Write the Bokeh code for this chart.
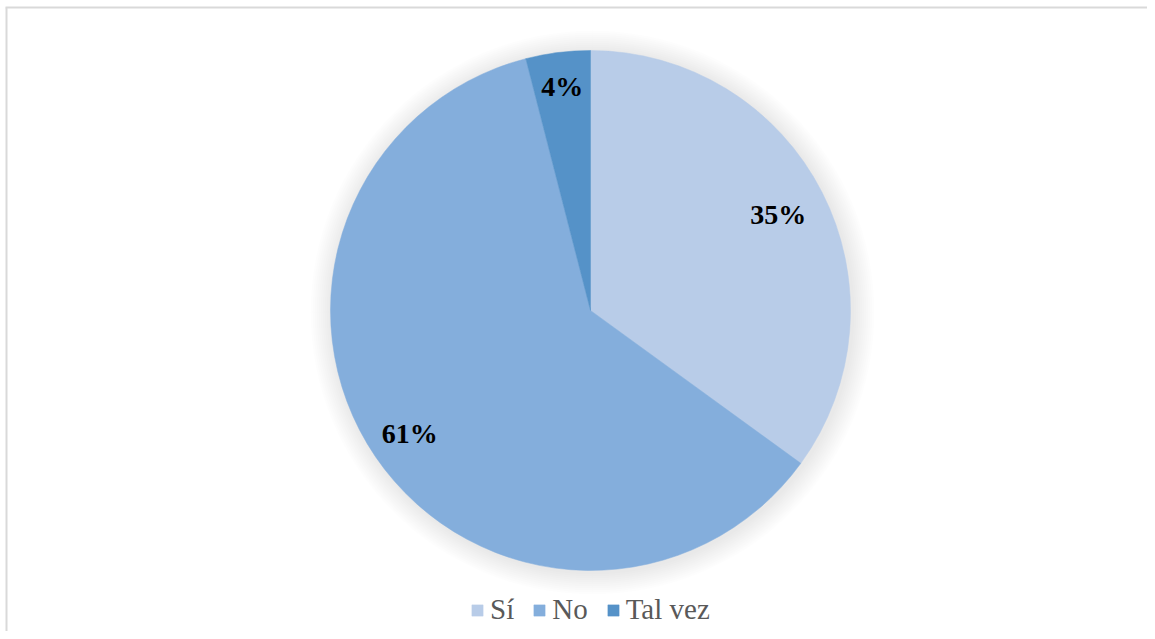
import numpy as np
from bokeh.plotting import figure
from bokeh.models import Legend, LegendItem
from bokeh.core.properties import value
from bokeh.embed import file_html
from bokeh.resources import INLINE

categories = ["Sí", "No", "Tal vez"]
percent = [35, 61, 4]
labels = ["35%", "61%", "4%"]
colors = ["#B8CCE8", "#84AEDC", "#5592C8"]
label_radius_frac = [0.81, 0.84, 0.87]

FONT = "Liberation Serif"

W, H = 1147, 631
p = figure(width=W, height=H, output_backend="svg", toolbar_location=None,
           x_range=(0, W), y_range=(0, H), min_border=0)
p.axis.visible = False
p.grid.visible = False
p.outline_line_color = None
p.background_fill_color = "white"

cx, cy, R = 590, 321, 260

# soft shadow glow
for k in range(22, 0, -2):
    p.circle(x=[cx + 2], y=[cy - 2], radius=R + k, fill_color="black",
             fill_alpha=0.007, line_color=None)

vals = np.array(percent, dtype=float)
frac = vals / vals.sum()
cum = np.concatenate([[0], np.cumsum(frac)])
start = np.pi / 2 - 2 * np.pi * cum[1:]
end = np.pi / 2 - 2 * np.pi * cum[:-1]
mid = (start + end) / 2

renderers = []
for i in range(len(categories)):
    r = p.wedge(x=cx, y=cy, radius=R, start_angle=start[i], end_angle=end[i],
                fill_color=colors[i], line_color=colors[i], line_width=0.5)
    renderers.append(r)

lx = [cx + R * f * np.cos(m) for f, m in zip(label_radius_frac, mid)]
ly = [cy + R * f * np.sin(m) for f, m in zip(label_radius_frac, mid)]
p.text(x=lx, y=ly, text=labels, text_align="center", text_baseline="middle",
       text_font=value(FONT), text_font_style="bold",
       text_font_size="28px", text_color="black")

# chart border (top and left visible)
p.line(x=[5, W], y=[H - 7, H - 7], line_color="#D9D9D9", line_width=2)
p.line(x=[6, 6], y=[0, H - 7], line_color="#D9D9D9", line_width=2)

items = [LegendItem(label=c, renderers=[r]) for c, r in zip(categories, renderers)]
legend = Legend(items=items, orientation="horizontal", location=(470, 5),
                label_text_font=FONT, label_text_font_size="29px",
                label_text_color="#595959", glyph_width=14, glyph_height=14,
                spacing=18, label_standoff=6, padding=0, margin=0,
                border_line_color=None, background_fill_alpha=0)
p.add_layout(legend, "center")

open("out.html", "w").write(file_html(p, INLINE))
